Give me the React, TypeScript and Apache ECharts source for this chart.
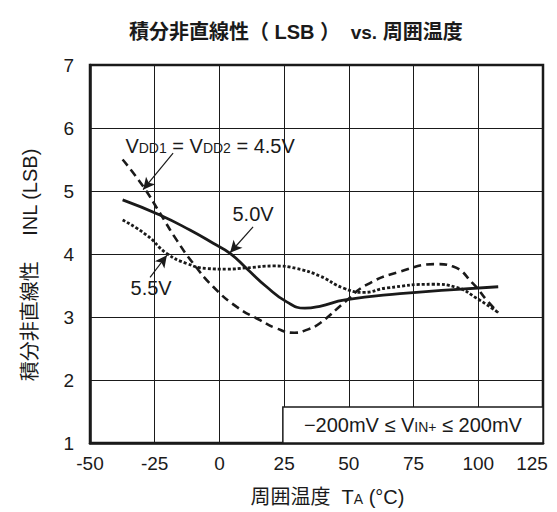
import React, { useEffect, useRef } from "react";
import * as echarts from "echarts";

const xTicks = { min: -50, max: 125, interval: 25 };
const yTicks = { min: 1, max: 7, interval: 1 };

const inl45: [number, number][] = [
  [-37.4, 5.5], [-29.4, 5.07], [-23, 4.65], [-16.5, 4.22], [-10.1, 3.85], [-2.4, 3.48],
  [6.7, 3.16], [15.7, 2.95], [22, 2.82], [29, 2.75], [34, 2.8], [38.8, 2.9], [48.5, 3.24],
  [56.8, 3.51], [69.7, 3.72], [83.9, 3.84], [90.3, 3.8], [98, 3.53], [103.2, 3.27], [107.7, 3.07],
];
const inl50: [number, number][] = [
  [-37.4, 4.86], [-23, 4.62], [-11.4, 4.38], [-2.4, 4.17], [4.1, 4.01], [10.5, 3.77],
  [18.2, 3.48], [26, 3.24], [33, 3.14], [38.8, 3.17], [48.5, 3.27], [69.7, 3.37],
  [89, 3.43], [107.7, 3.48],
];
const inl55: [number, number][] = [
  [-37.4, 4.54], [-28.1, 4.3], [-20.4, 4.01], [-12.7, 3.85], [-4.9, 3.77], [2.8, 3.76],
  [10.5, 3.78], [20.8, 3.81], [29.8, 3.77], [38.8, 3.65], [47.8, 3.46], [55.6, 3.39],
  [64.6, 3.46], [82.6, 3.52], [91.6, 3.47], [99.3, 3.3], [107.7, 3.07],
];

const FONT = "'Liberation Sans', Arial, 'Noto Sans CJK JP', sans-serif";
const INK = "#1a1a1a";

const arrow = (from: [number, number], to: [number, number]) => [
  { coord: from, symbol: "none" },
  { coord: to, symbol: "arrow" },
];

const subStyle = { fontSize: 14, fontFamily: FONT, color: INK, verticalAlign: "bottom", padding: [0, 0, 1, 0] };

const textMark = (coord: [number, number], text: string) => ({
  coord,
  symbolSize: 0,
  label: {
    show: true,
    position: "inside",
    formatter: text,
    color: INK,
    fontFamily: FONT,
    fontSize: 20,
    rich: { s: subStyle },
  },
});

export default function App() {
  const ref = useRef<HTMLDivElement>(null);
  useEffect(() => {
    if (!ref.current) return;
    const chart = echarts.init(ref.current, null, { renderer: "svg" });
    const lineCommon = {
      type: "line",
      smooth: true,
      showSymbol: false,
      symbol: "none",
      silent: true,
    };
    const arrowStyle = {
      symbolSize: [9, 12],
      lineStyle: { color: INK, width: 1.2, type: "solid" },
      label: { show: false },
      silent: true,
    };
    chart.setOption({
      animation: false,
      backgroundColor: "#ffffff",
      textStyle: { fontFamily: FONT },
      title: {
        text: "{b|積分非直線性（ LSB ）}{n|  vs.}{b| 周囲温度}",
        left: 124,
        top: 17,
        textStyle: {
          rich: {
            b: { fontSize: 20, fontWeight: "bold", color: INK, fontFamily: FONT },
            n: { fontSize: 19, color: INK, fontFamily: FONT },
          },
        },
      },
      grid: {
        left: 90,
        right: 14,
        top: 65,
        bottom: 69,
        outerBoundsMode: "none",
        containLabel: false,
        show: true,
        borderColor: INK,
        borderWidth: 2.5,
        backgroundColor: "transparent",
      },
      xAxis: {
        type: "value",
        min: xTicks.min,
        max: xTicks.max,
        interval: xTicks.interval,
        name: "周囲温度  T{s|A} (°C)",
        nameLocation: "middle",
        nameGap: 44,
        nameTextStyle: {
          fontSize: 20,
          color: INK,
          fontFamily: FONT,
          padding: [0, 0, 0, 22],
          rich: { s: { fontSize: 14, color: INK, fontFamily: FONT, verticalAlign: "bottom", padding: [0, 0, 1, 0] } },
        },
        axisLine: { show: true, onZero: false, lineStyle: { color: INK, width: 2.5 } },
        axisTick: { show: false },
        axisLabel: {
          fontSize: 19,
          color: INK,
          margin: 11,
          fontFamily: FONT,
          formatter: (v: number) => (v === xTicks.max ? "{r|" + v + "}" : String(v)),
          rich: { r: { fontSize: 19, color: INK, fontFamily: FONT, padding: [0, 22, 0, 0] } },
        },
        splitLine: { show: true, lineStyle: { color: INK, width: 1 } },
      },
      yAxis: {
        type: "value",
        min: yTicks.min,
        max: yTicks.max,
        interval: yTicks.interval,
        name: "積分非直線性　 INL (LSB)",
        nameLocation: "middle",
        nameGap: 50,
        nameTextStyle: { fontSize: 20, color: INK, fontFamily: FONT, padding: [0, 22, 0, 0] },
        axisLine: { show: true, onZero: false, lineStyle: { color: INK, width: 2.5 } },
        axisTick: { show: false },
        axisLabel: { fontSize: 19, color: INK, margin: 16, fontFamily: FONT },
        splitLine: { show: true, lineStyle: { color: INK, width: 1 } },
      },
      series: [
        {
          ...lineCommon,
          name: "4.5V",
          data: inl45,
          lineStyle: { color: INK, width: 2.6, type: [8, 5] },
          markLine: { ...arrowStyle, data: [arrow([-17.9, 5.6], [-29.5, 5.02])] },
          markPoint: { data: [textMark([-3.6, 5.72], "V{s|DD1} = V{s|DD2} = 4.5V")] },
        },
        {
          ...lineCommon,
          name: "5.0V",
          data: inl50,
          lineStyle: { color: INK, width: 2.8, type: "solid" },
          markLine: { ...arrowStyle, data: [arrow([13, 4.43], [4.1, 4.02])] },
          markPoint: { data: [textMark([13, 4.63], "5.0V")] },
        },
        {
          ...lineCommon,
          name: "5.5V",
          data: inl55,
          lineStyle: { color: INK, width: 2.8, type: [3, 2] },
          markLine: { ...arrowStyle, data: [arrow([-26.8, 3.63], [-20.3, 3.98])] },
          markPoint: { data: [textMark([-26.4, 3.46], "5.5V")] },
        },
        {
          type: "line",
          name: "box",
          data: [],
          silent: true,
          markArea: {
            silent: true,
            itemStyle: { color: "#ffffff", borderColor: INK, borderWidth: 1.5 },
            label: {
              show: true,
              position: "inside",
              formatter: "−200mV ≤ V{s|IN+} ≤ 200mV",
              color: INK,
              fontSize: 20,
              fontFamily: FONT,
              rich: { s: subStyle },
            },
            data: [[{ xAxis: 24.5, yAxis: 1 }, { xAxis: 125, yAxis: 1.57 }]],
          },
        },
      ],
    });
    return () => chart.dispose();
  }, []);
  return (
    <div
      ref={ref}
      style={{ position: "fixed", left: 0, top: 0, width: 557, height: 512, background: "#fff" }}
    />
  );
}
